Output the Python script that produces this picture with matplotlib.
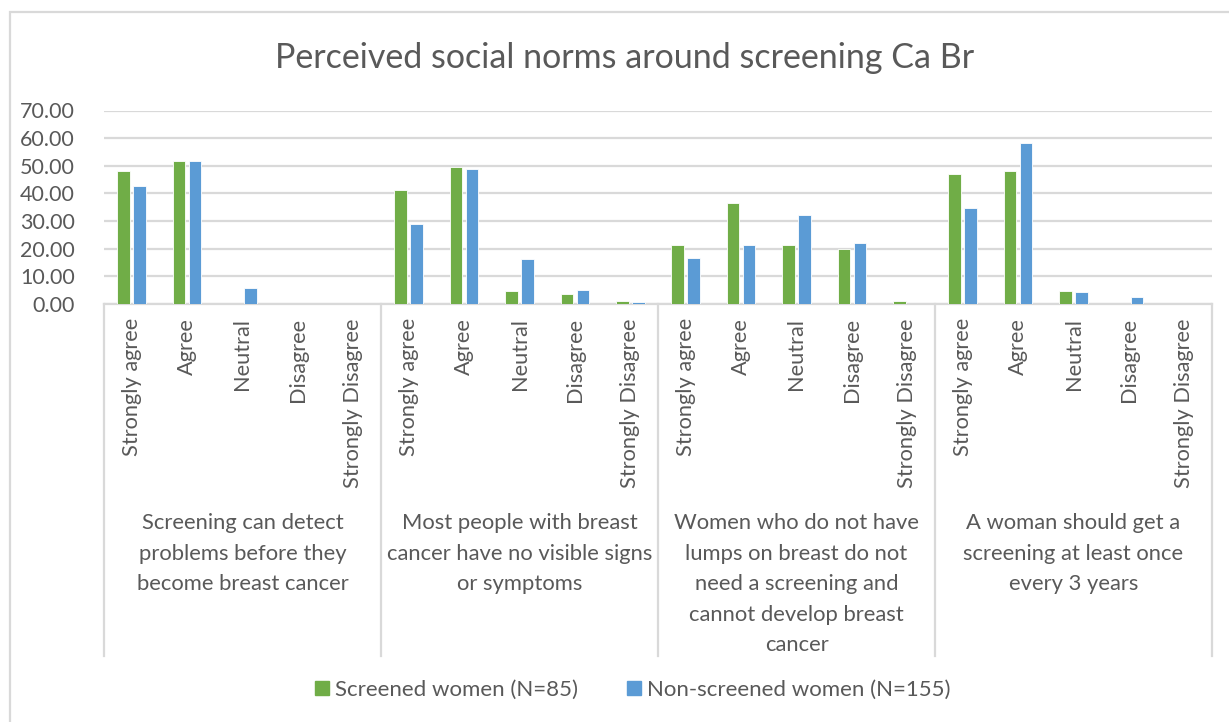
import matplotlib.pyplot as plt
import matplotlib.transforms as mtransforms
from matplotlib.patches import Patch, Rectangle

# data (percent)
statements = [
    "Screening can detect\nproblems before they\nbecome breast cancer",
    "Most people with breast\ncancer have no visible signs\nor symptoms",
    "Women who do not have\nlumps on breast do not\nneed a screening and\ncannot develop breast\ncancer",
    "A woman should get a\nscreening at least once\nevery 3 years",
]
responses = ["Strongly agree", "Agree", "Neutral", "Disagree", "Strongly Disagree"]
screened = [48.2, 51.8, 0.0, 0.0, 0.0,
            41.2, 49.4, 4.7, 3.5, 1.2,
            21.2, 36.5, 21.2, 20.0, 1.2,
            47.1, 48.2, 4.7, 0.0, 0.0]
non_screened = [42.6, 51.6, 5.8, 0.0, 0.0,
                29.0, 49.0, 16.1, 5.2, 0.6,
                16.8, 21.3, 32.3, 21.9, 0.0,
                34.8, 58.1, 4.5, 2.6, 0.0]
yticks = [0, 10, 20, 30, 40, 50, 60, 70]

GREEN = "#70AD47"
BLUE = "#5B9BD5"
GRID = "#D9D9D9"
TEXT = "#595959"

plt.rcParams['font.family'] = ['Lato', 'DejaVu Sans']

W, H = 1229, 722
fig = plt.figure(figsize=(W / 100, H / 100), dpi=100)


def fy(px):
    return 1 - px / H


# axes area in pixels
x0, x1, ytop, ybot = 104, 1212, 110.5, 304
ax = fig.add_axes([x0 / W, fy(ybot), (x1 - x0) / W, (ybot - ytop) / H])

n = len(screened)
xs = list(range(n))
bw = 0.226
off = 0.144
ax.bar([x - off for x in xs], screened, width=bw, color=GREEN, edgecolor='white', linewidth=0.6, zorder=3)
ax.bar([x + off for x in xs], non_screened, width=bw, color=BLUE, edgecolor='white', linewidth=0.6, zorder=3)

ax.set_xlim(-0.5, n - 0.5)
ax.set_ylim(0, 70)
ax.set_yticks(yticks)
ax.set_yticklabels([f"{v:.2f}" for v in yticks])
ax.tick_params(axis='y', length=0, labelsize=15.5, labelcolor=TEXT, pad=21)
ax.set_xticks([])
ax.grid(axis='y', color=GRID, linewidth=1.6, zorder=0)
for s in ['left', 'right', 'top']:
    ax.spines[s].set_visible(False)
ax.spines['bottom'].set_color(GRID)
ax.spines['bottom'].set_linewidth(1.6)

# multi-level category axis
tr = mtransforms.blended_transform_factory(ax.transData, fig.transFigure)
for i, lab in enumerate(responses * len(statements)):
    ax.text(i, fy(318), lab, rotation=90, ha='center', va='top', transform=tr,
            fontsize=15.7, color=TEXT)
for g, st in enumerate(statements):
    ax.text(g * 5 + 2, fy(513), st, ha='center', va='top', transform=tr,
            fontsize=15.8, color=TEXT, linespacing=1.66, multialignment='center')
for b in range(len(statements) + 1):
    ax.plot([b * 5 - 0.5, b * 5 - 0.5], [fy(304), fy(656)], transform=tr,
            color=GRID, linewidth=1.6, clip_on=False)

fig.text(625 / W, fy(58), "Perceived social norms around screening Ca Br",
         ha='center', va='center', fontsize=24.5, color=TEXT)

handles = [Patch(color=GREEN, label="Screened women (N=85)"),
           Patch(color=BLUE, label="Non-screened women (N=155)")]
fig.legend(handles=handles, loc='center', bbox_to_anchor=(633 / W, fy(690)), ncol=2,
           frameon=False, fontsize=16, labelcolor=TEXT, handlelength=0.6,
           handleheight=0.6, handletextpad=0.3, columnspacing=2.2)

# chart border (only left/top visible in the crop)
fig.patches.append(Rectangle((10 / W, -0.1), 1.2, fy(12) + 0.1, transform=fig.transFigure,
                             fill=False, edgecolor=GRID, linewidth=1.6))

fig.savefig("out.png", dpi=100)
